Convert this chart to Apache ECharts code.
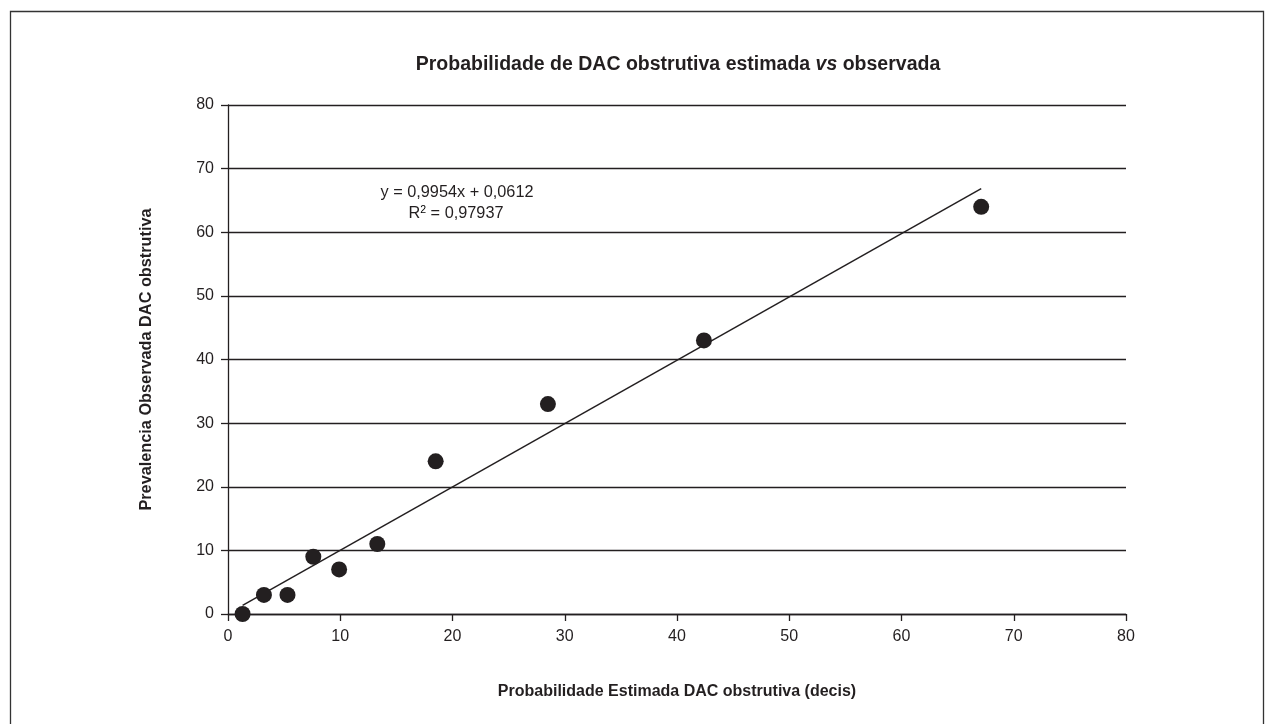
<!DOCTYPE html>
<html><head><meta charset="utf-8">
<script src="https://cdn.jsdelivr.net/npm/echarts@6/dist/echarts.min.js"></script>
<style>html,body{margin:0;padding:0;background:#fff}#c{width:1267px;height:724px}</style>
</head><body><div id="c"></div>
<script>
const estimated = [1.3, 3.2, 5.3, 7.6, 9.9, 13.3, 18.5, 28.5, 42.4, 67.1];
const observed  = [0, 3, 3, 9, 7, 11, 24, 33, 43, 64];
const slope = 0.9954, intercept = 0.0612, r2 = '0,97937';
const xTicks = [0, 10, 20, 30, 40, 50, 60, 70, 80];
const yTicks = [0, 10, 20, 30, 40, 50, 60, 70, 80];

const FONT = "'Liberation Sans Narrow', 'Arial Narrow', 'Liberation Sans', Arial, sans-serif";
const INK = '#231f20';
const pts = estimated.map((x, i) => [x, observed[i]]);
const x0 = Math.min(...estimated), x1 = Math.max(...estimated);
const trend = [[x0, slope * x0 + intercept], [x1, slope * x1 + intercept]];

const chart = echarts.init(document.getElementById('c'), null, {renderer: 'canvas'});
chart.setOption({
  animation: false,
  backgroundColor: '#fff',
  textStyle: {fontFamily: FONT},
  title: {
    text: '{b|Probabilidade de DAC obstrutiva estimada }{i|vs}{b| observada}',
    left: 673, top: 50, textAlign: 'center',
    textStyle: {
      rich: {
        b: {fontFamily: FONT, fontSize: 19.5, fontWeight: 'bold', color: INK},
        i: {fontFamily: FONT, fontSize: 19.5, fontWeight: 'bold', fontStyle: 'italic', color: INK}
      }
    }
  },
  grid: {left: 228, right: 141, top: 105, bottom: 110},
  xAxis: {
    type: 'value', min: 0, max: 80, interval: 10,
    name: 'Probabilidade Estimada DAC obstrutiva (decis)',
    nameLocation: 'middle', nameGap: 70,
    nameTextStyle: {fontFamily: FONT, fontSize: 16, fontWeight: 'bold', color: INK},
    axisLine: {show: true, onZero: false, lineStyle: {color: INK, width: 1.3}},
    axisTick: {show: true, length: 7, inside: false, lineStyle: {color: INK, width: 1.3}},
    axisLabel: {fontFamily: FONT, fontSize: 16, color: INK, margin: 15,
      formatter: v => xTicks.includes(v) ? String(v) : ''},
    splitLine: {show: false}
  },
  yAxis: {
    type: 'value', min: 0, max: 80, interval: 10,
    name: 'Prevalencia Observada DAC obstrutiva',
    nameLocation: 'middle', nameGap: 73, nameRotate: 90,
    nameTextStyle: {fontFamily: FONT, fontSize: 16.3, fontWeight: 'bold', color: INK},
    axisLine: {show: true, lineStyle: {color: INK, width: 1.3}},
    axisTick: {show: true, length: 7, lineStyle: {color: INK, width: 1.3}},
    axisLabel: {fontFamily: FONT, fontSize: 16, color: INK, margin: 14,
      formatter: v => yTicks.includes(v) ? String(v) : ''},
    splitLine: {show: true, lineStyle: {color: INK, width: 1.3}}
  },
  series: [
    {
      type: 'line', data: trend, symbol: 'none', silent: true,
      lineStyle: {color: INK, width: 1.5}, z: 3
    },
    {
      type: 'scatter', data: pts, symbol: 'circle', symbolSize: 16,
      itemStyle: {color: INK, opacity: 1}, z: 4
    }
  ],
  graphic: [
    {type: 'rect', shape: {x: 10.5, y: 11.5, width: 1253, height: 740}, silent: true,
      style: {fill: 'none', stroke: '#333', lineWidth: 1.3}, z: -1},
    {type: 'text', x: 457, y: 193, silent: true,
      style: {text: 'y = ' + String(slope).replace('.', ',') + 'x + ' + String(intercept).replace('.', ','),
        fontFamily: FONT, fontSize: 16.3, fill: INK, align: 'center', verticalAlign: 'middle'}},
    {type: 'text', x: 456, y: 214, silent: true,
      style: {text: '{n|R}{s|2}{n| = ' + r2 + '}',
        rich: {n: {fontFamily: FONT, fontSize: 16.3, fill: INK, color: INK},
               s: {fontFamily: FONT, fontSize: 10.5, verticalAlign: 'top', color: INK, padding: [0, 0, 7, 0]}},
        align: 'center', verticalAlign: 'middle'}}
  ]
});
</script></body></html>
